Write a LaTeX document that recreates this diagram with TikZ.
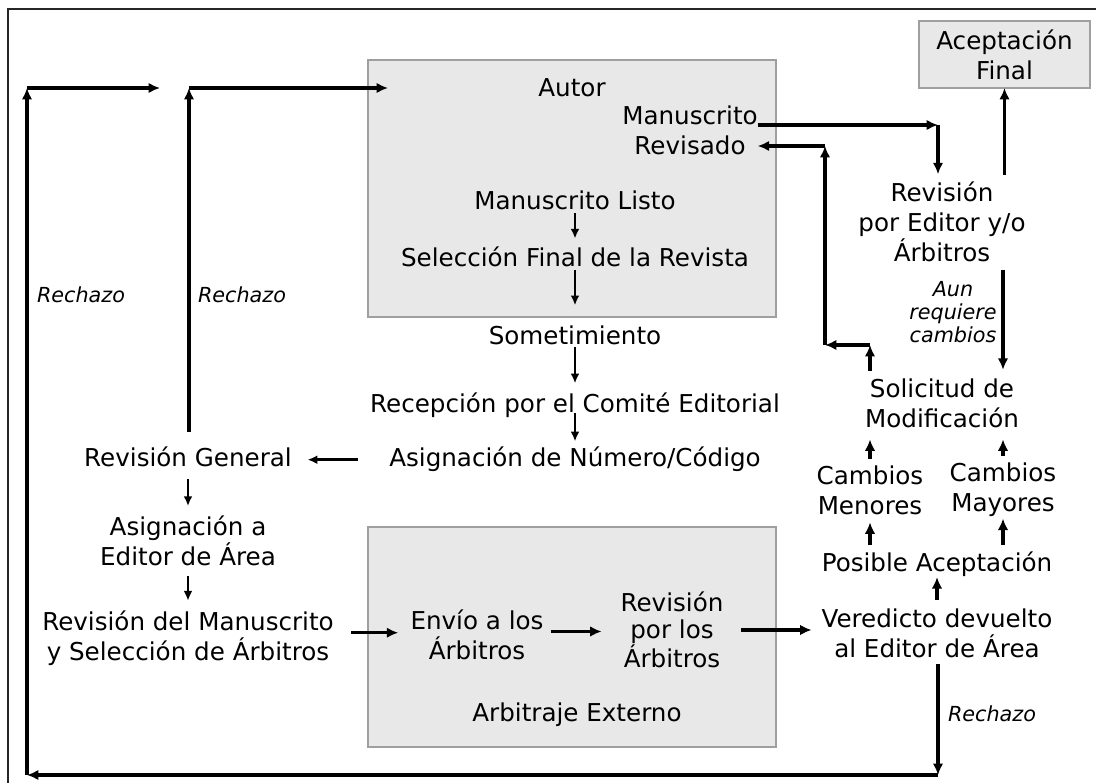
\documentclass[tikz,border=0pt]{standalone}
\usepackage{fontspec}
\setmainfont{DejaVu Sans}
\usetikzlibrary{arrows.meta,positioning,calc}

\begin{document}
\begin{tikzpicture}[x=0.02cm,y=-0.02cm]
\tikzstyle{tx}=[font=\fontsize{14}{17}\selectfont,align=center,inner sep=0pt,outer sep=0pt]
\tikzstyle{txslim}=[tx,font=\fontsize{14}{15.3}\selectfont]
\tikzstyle{rech}=[font=\fontsize{11.8}{13.2}\selectfont\itshape,align=center,inner sep=0pt]
\tikzstyle{bx}=[draw=gray!75,fill=gray!18,line width=.8pt,inner sep=0pt]
\tikzstyle{ar}=[-{Latex[length=5.5pt,width=5pt]},line width=1.5pt]
\tikzstyle{arr}=[-{Latex[length=6.5pt,width=6pt]},line width=1.9pt]

\useasboundingbox (0,0) rectangle (1096,783);
\draw[line width=1.1pt,black!85] (1096,9) -| (8,783);

% shaded groups
\node[bx,minimum width=8.16cm,minimum height=5.14cm] (autorbox) at (572,188.5) {};
\node[bx,minimum width=8.16cm,minimum height=4.4cm] (arbbox) at (572,637) {};
\node[bx,tx,minimum width=3.42cm,minimum height=1.34cm] (acept) at (1004.5,54.5) {Aceptación\\Final};

% author and editorial steps
\node[tx,anchor=base] (autor) at (572,97) {Autor};
\node[tx] (manrev) at (690,130) {Manuscrito\\Revisado};
\node[tx,anchor=base] (listo) at (575,210) {Manuscrito Listo};
\node[tx,anchor=base] (selec) at (575,267) {Selección Final de la Revista};
\node[tx,anchor=base] (somet) at (575,345) {Sometimiento};
\node[tx,anchor=base] (recep) at (575,413) {Recepción por el Comité Editorial};
\node[tx,anchor=base] (asign) at (575,467) {Asignación de Número/Código};
\node[tx,anchor=base] (revgen) at (188,467) {Revisión General};
\node[tx] (asigarea) at (188,541) {Asignación a\\Editor de Área};
\node[tx] (revman) at (188,638) {Revisión del Manuscrito\\y Selección de Árbitros};
\node[tx] (envio) at (477,635) {Envío a los\\Árbitros};
\node[txslim] (revarb) at (672,630) {Revisión\\por los\\Árbitros};
\node[tx,anchor=base] (arbext) at (577,722) {Arbitraje Externo};

% decision side
\node[tx] (vered) at (937,633) {Veredicto devuelto\\al Editor de Área};
\node[tx,anchor=base] (posible) at (937,572) {Posible Aceptación};
\node[tx] (menores) at (870,490) {Cambios\\Menores};
\node[tx] (mayores) at (1003,490) {Cambios\\Mayores};
\node[tx] (solic) at (942,403) {Solicitud de\\Modificación};
\node[tx] (reved) at (942,222) {Revisión\\por Editor y/o\\Árbitros};
\node[rech] (aun) at (953,312) {Aun\\requiere\\cambios};

\node[rech,anchor=base] (rech1) at (81,303) {Rechazo};
\node[rech,anchor=base] (rech2) at (242,303) {Rechazo};
\node[rech,anchor=base] (rech3) at (992,722) {Rechazo};

% corners of the return paths
\coordinate (revturn) at (938,125);
\coordinate (modturn) at (870,345);
\coordinate (leftturn) at (825,345);
\coordinate (upturn) at (825,146);
\coordinate (botturn) at (938,775);
\coordinate (lowleft) at (27,775);
\coordinate (upleft) at (27,88);
\coordinate (endleft) at (160,88);
\coordinate (upmid) at (189,88);
\coordinate (endmid) at (388,88);

% main flow
\draw[ar,shorten <=1.5pt,shorten >=5pt] (listo.south) -- (selec.north);
\draw[ar,shorten <=1.5pt,shorten >=12pt] (selec.south) -- (somet.north);
\draw[ar,shorten <=1pt,shorten >=5.7pt] (somet.south) -- (recep.north);
\draw[ar,shorten >=3.4pt] (recep.base) -- (asign.north);
\draw[ar,shorten <=18pt,shorten >=9pt] (asign.west) -- (asign.west -| revgen.east);
\draw[ar,shorten <=6.8pt,shorten >=5.7pt] (revgen.south) -- (asigarea.north);
\draw[ar,shorten <=5.7pt,shorten >=5.7pt] (asigarea.south) -- (revman.north);
\draw[arr,shorten <=10pt,shorten >=7pt] ([yshift=3pt]revman.east) -- ([yshift=3pt]revman.east -| envio.west);
\draw[arr,shorten <=4pt,shorten >=10.8pt] ([yshift=2pt]envio.east) -- ([yshift=2pt]envio.east -| revarb.west);
\draw[arr,shorten <=10pt,shorten >=5.7pt] (revarb.east) -- (revarb.east -| vered.west);

% verdict and changes
\draw[arr,shorten <=5pt] (vered.north) -- (posible.south);
\draw[arr,shorten <=4pt,shorten >=4.5pt] (posible.north -| menores) -- (menores.south);
\draw[arr,shorten <=4pt,shorten >=1pt] (posible.north -| mayores) -- (mayores.south);
\draw[arr,shorten <=4pt,shorten >=6.8pt] (menores.north) -- (menores.north |- solic.south);
\draw[arr,shorten <=4pt,shorten >=6.8pt] (mayores.north) -- (mayores.north |- solic.south);
\draw[arr,shorten <=4.5pt] (solic.north -| menores) -- (modturn);
\draw[arr] (modturn) -- (leftturn);
\draw[arr] (leftturn) -- (upturn);
\draw[arr] (upturn) -- (upturn -| manrev.east);

% revised manuscript
\draw[arr] (manrev.east |- revturn) -- (revturn);
\draw[arr,shorten >=4.5pt] (revturn) -- (revturn |- reved.north);
\draw[arr,shorten <=4pt] (reved.north -| acept.south) -- (acept.south);
\draw[arr,shorten <=4.5pt,shorten >=5pt] (reved.south -| mayores) -- (solic.north -| mayores);

% rejections
\draw[arr,shorten <=4pt] (vered.south -| botturn) -- (botturn);
\draw[arr] (botturn) -- (lowleft);
\draw[arr] (lowleft) -- (upleft);
\draw[arr] (upleft) -- (endleft);
\draw[arr,shorten <=9pt] (revgen.north -| upmid) -- (upmid);
\draw[arr] (upmid) -- (endmid);
\end{tikzpicture}
\end{document}
